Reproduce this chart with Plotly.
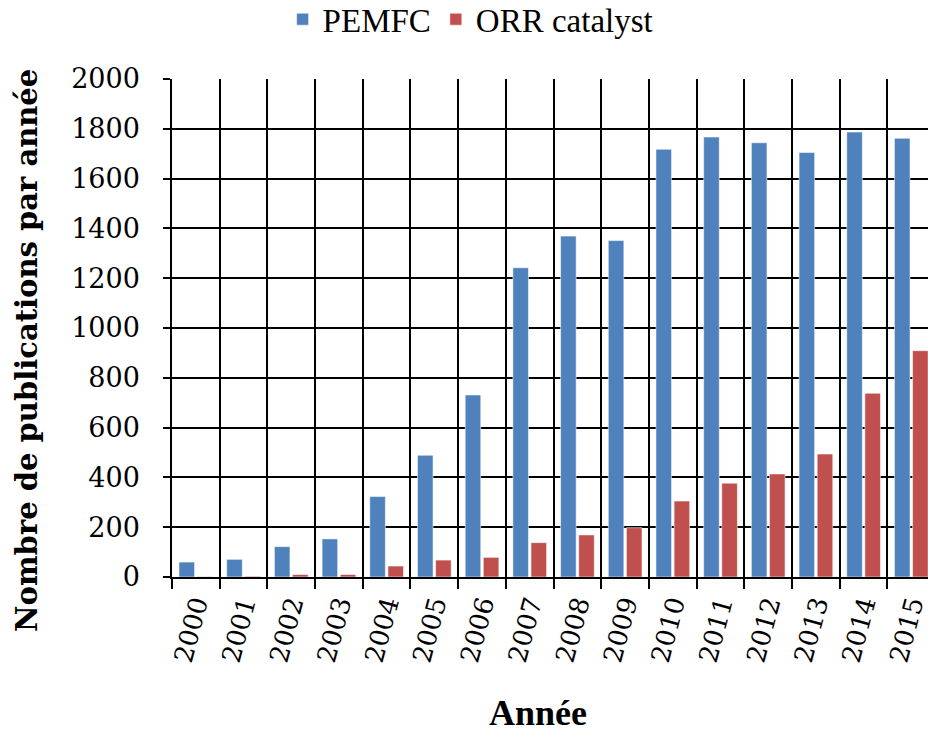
import plotly.graph_objects as go

years = [str(y) for y in range(2000, 2016)]
pemfc = [60, 71, 122, 153, 323, 489, 731, 1242, 1369, 1351, 1718, 1767, 1744, 1705, 1787, 1762]
orr = [2, 3, 10, 10, 44, 68, 79, 138, 169, 198, 305, 377, 414, 494, 738, 909]
y_ticks = list(range(0, 2001, 200))

fig = go.Figure()
fig.add_trace(go.Bar(x=years, y=pemfc, name="PEMFC",
                     marker=dict(color="#4F81BD", line=dict(color="rgba(255,255,255,0.55)", width=1))))
fig.add_trace(go.Bar(x=years, y=orr, name="ORR catalyst",
                     marker=dict(color="#C0504D", line=dict(color="rgba(255,255,255,0.55)", width=1))))

fig.update_layout(
    width=928, height=733,
    margin=dict(l=172, r=0, t=79, b=156, autoexpand=False),
    paper_bgcolor="white", plot_bgcolor="white",
    barmode="group", bargap=0.24, bargroupgap=0.14,
    showlegend=True,
    legend=dict(orientation="h", x=0.395, xanchor="center", y=1.12, yanchor="middle",
                font=dict(family="Liberation Serif", size=33, color="black"),
                bgcolor="rgba(0,0,0,0)", itemwidth=30),
    xaxis=dict(type="category", range=[-0.5, 15.35], tickson="boundaries",
               showgrid=True, gridcolor="black", gridwidth=1.5,
               showline=True, linecolor="black", linewidth=1.5,
               ticks="outside", ticklen=10, tickwidth=1.5, tickcolor="black",
               tickangle=-75, tickfont=dict(family="DejaVu Serif", size=26, color="black"),
               automargin=False),
    yaxis=dict(range=[0, 2000], tickvals=y_ticks, ticktext=[str(v) for v in y_ticks],
               showgrid=True, gridcolor="black", gridwidth=1.5,
               showline=True, linecolor="black", linewidth=1.5, zeroline=False,
               ticks="outside", ticklen=7, tickwidth=1.5, tickcolor="black",
               ticklabelstandoff=18,
               tickfont=dict(family="DejaVu Serif", size=27, color="black"),
               automargin=False),
    annotations=[
        dict(text="<b>Nombre de publications par année</b>", textangle=-90,
             xref="paper", yref="paper", x=-0.1918, y=0.456, xanchor="center", yanchor="middle",
             showarrow=False, font=dict(family="DejaVu Serif", size=29, color="black")),
        dict(text="<b>Année</b>", xref="paper", yref="paper", x=0.484, y=-0.273,
             xanchor="center", yanchor="middle", showarrow=False,
             font=dict(family="Liberation Serif", size=36, color="black")),
    ],
)

fig.write_html("out.html", config={"displayModeBar": False},
               post_script="document.body.style.margin='0';")
